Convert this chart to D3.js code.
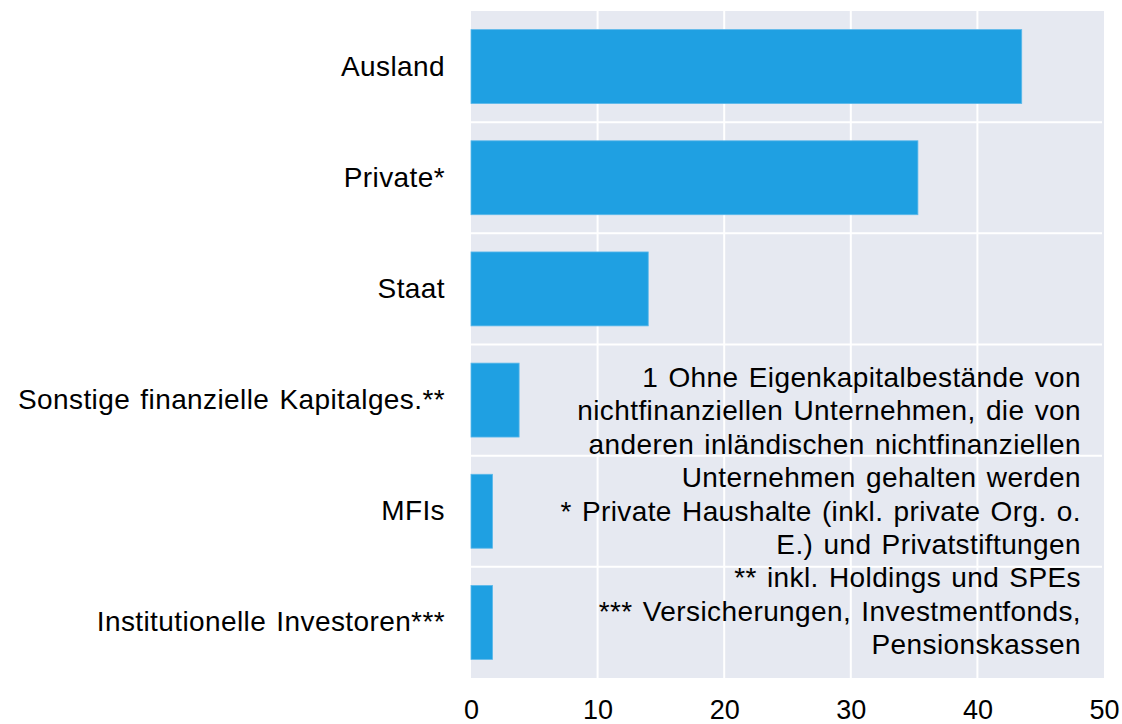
<!DOCTYPE html>
<html>
<head>
<meta charset="utf-8">
<script src="https://cdn.jsdelivr.net/npm/d3@7"></script>
<style>
  body { margin: 0; background: #fff; }
  svg text { font-family: "Liberation Sans", Arial, sans-serif; fill: #000; }
</style>
</head>
<body>
<div id="chart"></div>
<script>
// categories and values (share in %)
const categories = ["Ausland", "Private*", "Staat", "Sonstige finanzielle Kapitalges.**", "MFIs", "Institutionelle Investoren***"];
const values = [43.5, 35.3, 14.0, 3.8, 1.7, 1.7];
const xTicks = [0, 10, 20, 30, 40, 50];
const noteLines = [
  "1 Ohne Eigenkapitalbestände von",
  "nichtfinanziellen Unternehmen, die von",
  "anderen inländischen nichtfinanziellen",
  "Unternehmen gehalten werden",
  "* Private Haushalte (inkl. private Org. o.",
  "E.) und Privatstiftungen",
  "**  inkl. Holdings und SPEs",
  "*** Versicherungen, Investmentfonds,",
  "Pensionskassen"
];

const width = 1122, height = 724;
const margin = {top: 11, right: 18, bottom: 46, left: 471};

const svg = d3.select("#chart").append("svg")
  .attr("width", width)
  .attr("height", height);

const xscale = d3.scaleLinear()
  .domain([0, 50])
  .range([margin.left, width - margin.right]);

const yscale = d3.scaleBand()
  .domain(categories)
  .range([margin.top, height - margin.bottom])
  .paddingInner(0.335)
  .paddingOuter(0.1675);

// plot background
svg.append("rect")
  .attr("x", xscale.range()[0])
  .attr("y", margin.top)
  .attr("width", xscale.range()[1] - xscale.range()[0])
  .attr("height", height - margin.bottom - margin.top)
  .attr("fill", "#e6e9f1");

// vertical grid
svg.append("g")
  .selectAll("line")
  .data(xTicks.slice(1, -1))
  .join("line")
  .attr("x1", d => xscale(d))
  .attr("x2", d => xscale(d))
  .attr("y1", margin.top)
  .attr("y2", height - margin.bottom)
  .attr("stroke", "#fff")
  .attr("stroke-width", 2);

// horizontal grid between categories
const step = yscale.step();
svg.append("g")
  .selectAll("line")
  .data(categories.slice(1))
  .join("line")
  .attr("x1", xscale.range()[0])
  .attr("x2", xscale.range()[1] - 2)
  .attr("y1", d => yscale(d) - step * yscale.paddingInner() / 2)
  .attr("y2", d => yscale(d) - step * yscale.paddingInner() / 2)
  .attr("stroke", "#fff")
  .attr("stroke-width", 2);

// bars
svg.append("g")
  .selectAll("rect")
  .data(categories)
  .join("rect")
  .attr("x", xscale(0))
  .attr("y", d => yscale(d))
  .attr("width", (d, i) => xscale(values[i]) - xscale(0))
  .attr("height", yscale.bandwidth())
  .attr("fill", "#1fa0e2")
  .attr("stroke", "#5bb8ea")
  .attr("stroke-width", 0.8);

// y axis labels
const yAxis = g => g
  .attr("transform", `translate(${margin.left - 26},0)`)
  .call(d3.axisLeft(yscale).tickSize(0).tickPadding(0))
  .call(g => g.select(".domain").remove())
  .call(g => g.selectAll("text")
    .attr("font-size", 28)
    .attr("letter-spacing", 0.4)
    .attr("word-spacing", 2)
    .attr("font-family", "Liberation Sans, Arial, sans-serif")
    .attr("fill", "#000"));
svg.append("g").call(yAxis);

// x axis labels
const xAxis = g => g
  .attr("transform", `translate(0, ${height - margin.bottom})`)
  .call(d3.axisBottom(xscale).tickValues(xTicks).tickSize(0).tickPadding(22))
  .call(g => g.select(".domain").remove())
  .call(g => g.selectAll("text")
    .attr("font-size", 27)
    .attr("font-family", "Liberation Sans, Arial, sans-serif")
    .attr("fill", "#000"));
svg.append("g").call(xAxis);

// footnote block
svg.append("text")
  .attr("text-anchor", "end")
  .attr("font-size", 28)
  .attr("letter-spacing", 0.4)
  .attr("word-spacing", 2)
  .selectAll("tspan")
  .data(noteLines)
  .join("tspan")
  .attr("x", 1081)
  .attr("y", (d, i) => 387 + i * 33.4)
  .text(d => d);
</script>
</body>
</html>
